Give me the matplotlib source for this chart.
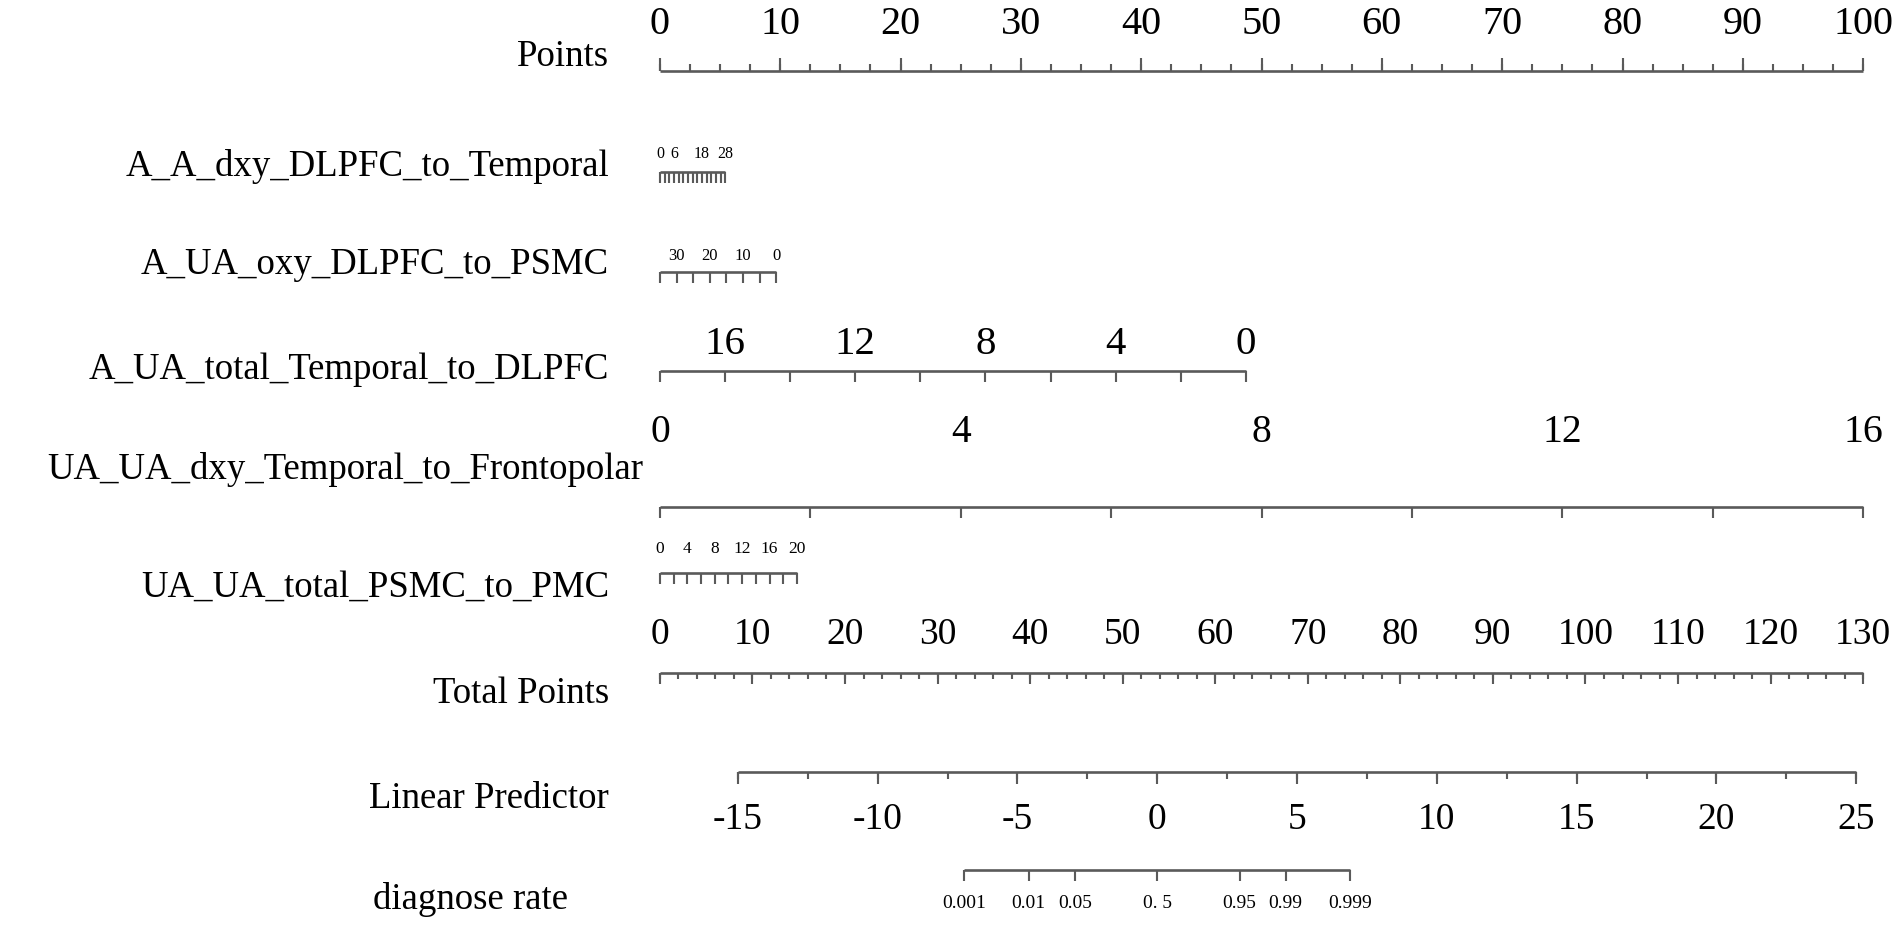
import numpy as np
import matplotlib
matplotlib.use('Agg')
import matplotlib.pyplot as plt

plt.rcParams['font.family'] = ['Liberation Serif', 'DejaVu Serif']

# nomogram data
points_ticks = np.arange(0, 100.1, 2.5)
points_labels = np.arange(0, 101, 10)

a_dxy_ticks = np.arange(0, 29, 2)
a_dxy_labels = [0, 6, 18, 28]
a_dxy_max_pts = 5.44          # points given at value 28

a_oxy_ticks = np.arange(0, 36, 5)
a_oxy_labels = [30, 20, 10, 0]
a_oxy_max_pts = 9.68          # points given at value 0 (reversed)

a_total_ticks = np.arange(0, 19, 2)
a_total_labels = [16, 12, 8, 4, 0]
a_total_max_pts = 48.7        # points given at value 0 (reversed)

ua_dxy_ticks = np.arange(0, 17, 2)
ua_dxy_labels = [0, 4, 8, 12, 16]
ua_dxy_max_pts = 100.0

ua_total_ticks = np.arange(0, 21, 2)
ua_total_labels = [0, 4, 8, 12, 16, 20]
ua_total_max_pts = 11.4

total_ticks = np.arange(0, 131, 2)
total_labels = np.arange(0, 131, 10)

lp_ticks = np.arange(-15, 25.1, 2.5)
lp_labels = np.arange(-15, 26, 5)
lp_zero_pts = 41.33           # points position of LP = 0
lp_slope = 2.3236             # points per LP unit

rate_labels = [0.001, 0.01, 0.05, 0.5, 0.95, 0.99, 0.999]
rate_text = ['0.001', '0.01', '0.05', '0. 5', '0.95', '0.99', '0.999']


def lin(v, vmin, vmax, pmax, reverse=False):
    v = np.asarray(v, dtype=float)
    f = (v - vmin) / (vmax - vmin)
    if reverse:
        f = 1 - f
    return f * pmax


def lp_pos(v):
    return lp_zero_pts + lp_slope * np.asarray(v, dtype=float)


fig = plt.figure(figsize=(19.02, 9.29), dpi=100)
ax = fig.add_axes([0, 0, 1, 1])
# layout units: page is 1568 x 766; x in Points units (0 -> 544, 100 -> 1536)
W, H = 1568, 766
px = 9.92
ax.set_xlim(-544 / px, (W - 544) / px)
ax.set_ylim(H, 0)
ax.axis('off')

line_col = '#5a5a5a'
lw = 1.9


def draw_row(y, tick_x, lab_x, lab_txt, lab_y, fs, tick_len=10, major_x=None,
             minor_len=None, up=False):
    ax.plot([min(tick_x), max(tick_x)], [y, y], color=line_col, lw=lw,
            solid_capstyle='butt')
    d = -1 if up else 1
    if major_x is None:
        ax.vlines(tick_x, y, y + d * tick_len, color=line_col, lw=lw * 0.8)
    else:
        ax.vlines(tick_x, y, y + d * minor_len, color=line_col, lw=lw * 0.8)
        ax.vlines(major_x, y, y + d * tick_len, color=line_col, lw=lw * 0.8)
    for xx, t in zip(lab_x, lab_txt):
        ax.text(xx, lab_y, t, ha='center', va='center', fontsize=fs)


def row_name(txt, y, x_right=502):
    ax.text((x_right - 544) / px, y, txt, ha='right', va='center', fontsize=26.5)


# Points
draw_row(59, points_ticks, points_labels, [str(v) for v in points_labels], 20, 29,
         tick_len=10, major_x=points_labels, minor_len=5, up=True)
row_name('Points', 47)

# A_A_dxy_DLPFC_to_Temporal
draw_row(143, lin(a_dxy_ticks, 0, 28, a_dxy_max_pts),
         lin(a_dxy_labels, 0, 28, a_dxy_max_pts), [str(v) for v in a_dxy_labels],
         127, 11.5, tick_len=9)
row_name('A_A_dxy_DLPFC_to_Temporal', 137)

# A_UA_oxy_DLPFC_to_PSMC
draw_row(225, lin(a_oxy_ticks, 0, 35, a_oxy_max_pts, reverse=True),
         lin(a_oxy_labels, 0, 35, a_oxy_max_pts, reverse=True),
         [str(v) for v in a_oxy_labels], 211, 12, tick_len=9)
row_name('A_UA_oxy_DLPFC_to_PSMC', 218)

# A_UA_total_Temporal_to_DLPFC
draw_row(307, lin(a_total_ticks, 0, 18, a_total_max_pts, reverse=True),
         lin(a_total_labels, 0, 18, a_total_max_pts, reverse=True),
         [str(v) for v in a_total_labels], 284, 29.5, tick_len=9)
row_name('A_UA_total_Temporal_to_DLPFC', 305)

# UA_UA_dxy_Temporal_to_Frontopolar
draw_row(419, lin(ua_dxy_ticks, 0, 16, ua_dxy_max_pts),
         lin(ua_dxy_labels, 0, 16, ua_dxy_max_pts), [str(v) for v in ua_dxy_labels],
         357, 28.5, tick_len=9)
row_name('UA_UA_dxy_Temporal_to_Frontopolar', 387, x_right=530)

# UA_UA_total_PSMC_to_PMC
draw_row(473, lin(ua_total_ticks, 0, 20, ua_total_max_pts),
         lin(ua_total_labels, 0, 20, ua_total_max_pts),
         [str(v) for v in ua_total_labels], 453, 12.5, tick_len=9)
row_name('UA_UA_total_PSMC_to_PMC', 484)

# Total Points
draw_row(556, lin(total_ticks, 0, 130, 100), lin(total_labels, 0, 130, 100),
         [str(v) for v in total_labels], 523, 27, tick_len=9,
         major_x=lin(total_labels, 0, 130, 100), minor_len=5)
row_name('Total Points', 572)

# Linear Predictor
draw_row(637, lp_pos(lp_ticks), lp_pos(lp_labels), [str(v) for v in lp_labels],
         676, 27, tick_len=10, major_x=lp_pos(lp_labels), minor_len=6)
row_name('Linear Predictor', 659)

# diagnose rate
rate_lp = np.log(np.array(rate_labels) / (1 - np.array(rate_labels)))
draw_row(718, lp_pos(rate_lp), lp_pos(rate_lp), rate_text, 745, 14, tick_len=9)
row_name('diagnose rate', 742, x_right=468)

fig.savefig('out.png', dpi=100)
